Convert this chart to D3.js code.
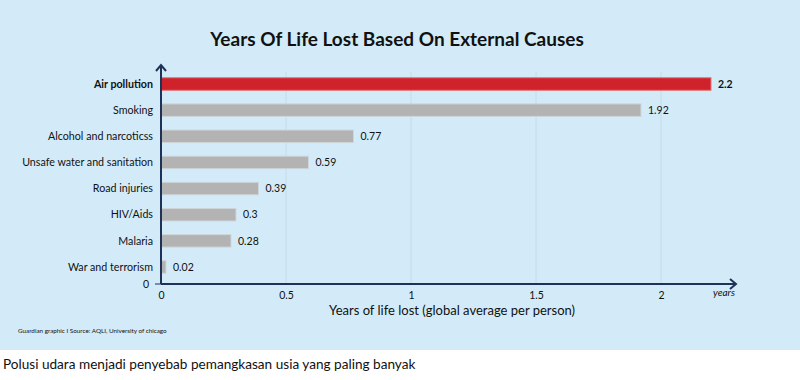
<!DOCTYPE html>
<html>
<head>
<meta charset="utf-8">
<script src="https://cdn.jsdelivr.net/npm/d3@7"></script>
<style>
    body { margin: 0; background: #fff; }
    text { font-family: Lato, "Noto Sans", sans-serif; }
</style>
</head>
<body>
<div id="chart"></div>
<script>
// data
var causes = ["Air pollution", "Smoking", "Alcohol and narcoticss", "Unsafe water and sanitation",
    "Road injuries", "HIV/Aids", "Malaria", "War and terrorism"];
var years = [2.2, 1.92, 0.77, 0.59, 0.39, 0.3, 0.28, 0.02];
var xTicks = [0, 0.5, 1, 1.5, 2];
var highlight = "Air pollution";

var W = 800, H = 380;
var margin = {top: 72, left: 161, right: 139, bottom: 96};
var width = W - margin.left - margin.right,   // 0..2 over 500px
    height = H - margin.top - margin.bottom;

var svg = d3.select("#chart").append("svg")
    .attr("width", W)
    .attr("height", H);

// blue panel
svg.append("rect")
    .attr("x", 0).attr("y", 0)
    .attr("width", W).attr("height", 350)
    .attr("fill", "#d3ebf8");

svg.append("text")
    .attr("x", 397).attr("y", 46)
    .attr("text-anchor", "middle")
    .style("font-size", "19px")
    .style("font-weight", "bold")
    .attr("fill", "#111")
    .text("Years Of Life Lost Based On External Causes");

var g = svg.append("g")
    .attr("transform", "translate(" + margin.left + "," + margin.top + ")");

var x = d3.scaleLinear().domain([0, 2]).range([0, width]);
var y = d3.scaleBand().domain(causes).range([0, 207]).paddingInner(0.52).paddingOuter(0.22);

// grid lines
g.append("g")
    .selectAll("line")
    .data(xTicks.slice(1))
    .enter().append("line")
    .attr("x1", d => x(d)).attr("x2", d => x(d))
    .attr("y1", 0).attr("y2", height)
    .attr("stroke", "#c4dce9")
    .attr("stroke-width", 1);

// bars
g.append("g")
    .selectAll("rect")
    .data(years)
    .enter().append("rect")
    .attr("x", 0)
    .attr("y", (d, i) => y(causes[i]))
    .attr("width", d => x(d))
    .attr("height", y.bandwidth())
    .attr("fill", (d, i) => causes[i] === highlight ? "#d0222a" : "#b3b3b3")
    .attr("stroke", (d, i) => causes[i] === highlight ? "#e0767a" : "#cfd6da")
    .attr("stroke-width", 1);

// value labels
g.append("g")
    .selectAll("text")
    .data(years)
    .enter().append("text")
    .attr("x", d => x(d) + 7)
    .attr("y", (d, i) => y(causes[i]) + y.bandwidth() / 2)
    .attr("dy", "0.35em")
    .style("font-size", "10.5px")
    .style("font-weight", (d, i) => causes[i] === highlight ? "bold" : "normal")
    .attr("fill", "#111")
    .text(d => d);

// category labels
g.append("g")
    .selectAll("text")
    .data(causes)
    .enter().append("text")
    .attr("x", -8)
    .attr("y", d => y(d) + y.bandwidth() / 2)
    .attr("dy", "0.35em")
    .attr("text-anchor", "end")
    .style("font-size", "10.7px")
    .style("font-weight", d => d === highlight ? "bold" : "normal")
    .attr("fill", "#111")
    .text(d => d);

// x axis
var xAxis = g.append("g")
    .attr("transform", "translate(0," + height + ")")
    .call(d3.axisBottom(x).tickValues(xTicks).tickSize(0).tickPadding(8).tickFormat(d3.format("")));
xAxis.select(".domain").remove();
xAxis.selectAll("text").style("font-size", "10.5px").attr("fill", "#111")
    .style("font-family", "Lato, 'Noto Sans', sans-serif");

var navy = "#1e3257";
var axisEnd = 574;
g.append("line")
    .attr("x1", 0).attr("x2", axisEnd)
    .attr("y1", height).attr("y2", height)
    .attr("stroke", navy).attr("stroke-width", 2);
g.append("path")
    .attr("d", "M" + (axisEnd - 5) + "," + (height - 5) + "L" + (axisEnd + 1) + "," + height + "L" + (axisEnd - 5) + "," + (height + 5))
    .attr("fill", "none").attr("stroke", navy).attr("stroke-width", 2);

// y axis
g.append("line")
    .attr("x1", 0).attr("x2", 0)
    .attr("y1", -6).attr("y2", height)
    .attr("stroke", navy).attr("stroke-width", 2);
g.append("path")
    .attr("d", "M-5,-1L0,-7L5,-1")
    .attr("fill", "none").attr("stroke", navy).attr("stroke-width", 2);
g.append("line")
    .attr("x1", -6).attr("x2", 0)
    .attr("y1", height).attr("y2", height)
    .attr("stroke", navy).attr("stroke-width", 1);
g.append("text")
    .attr("x", -12).attr("y", height)
    .attr("dy", "0.35em")
    .attr("text-anchor", "end")
    .style("font-size", "10.5px")
    .attr("fill", "#111")
    .text("0");

g.append("text")
    .attr("x", axisEnd).attr("y", height + 12)
    .attr("text-anchor", "end")
    .style("font-size", "10px")
    .style("font-style", "italic")
    .attr("fill", "#111")
    .text("years");

// axis title
svg.append("text")
    .attr("x", 452).attr("y", 315)
    .attr("text-anchor", "middle")
    .style("font-size", "13px")
    .attr("fill", "#111")
    .text("Years of life lost (global average per person)");

// source
svg.append("text")
    .attr("x", 18).attr("y", 333)
    .style("font-size", "6.3px")
    .attr("fill", "#111")
    .text("Guardian graphic I Source: AQLI, University of chicago");

// caption
svg.append("text")
    .attr("x", 3).attr("y", 369)
    .style("font-size", "13.6px")
    .attr("fill", "#111")
    .text("Polusi udara menjadi penyebab pemangkasan usia yang paling banyak");
</script>
</body>
</html>
